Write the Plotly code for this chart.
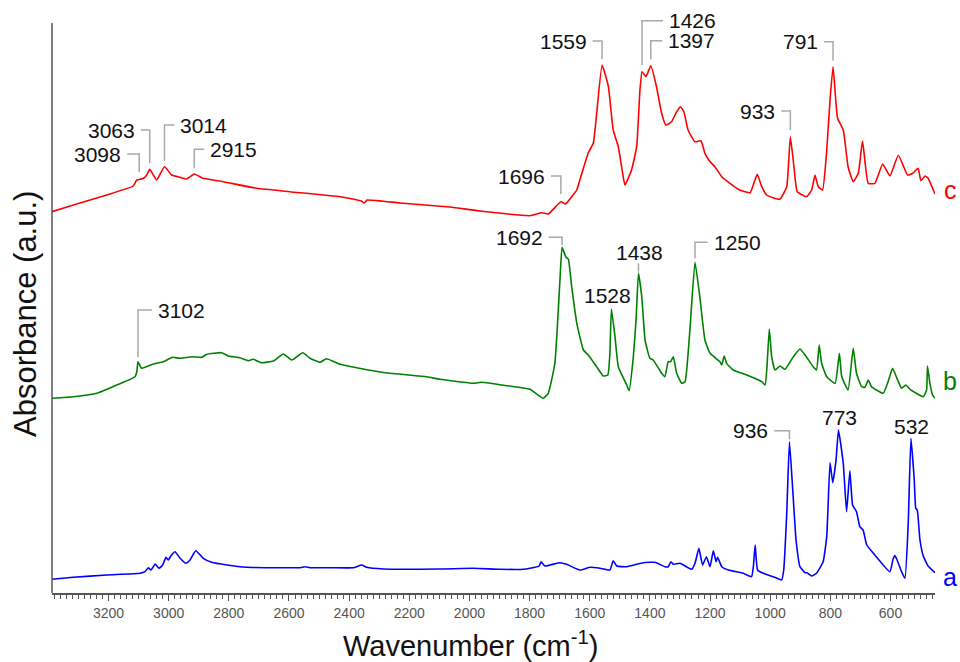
import plotly.graph_objects as go

# ---------------- data (wavenumber in cm-1, absorbance in arbitrary units) ----------------
c_wn = [3388,3317,3206,3118,3106,3095,3084,3073,3063,3040,3014,2990,2962,2940,2915,2886,2819,2707,2597,2430,
        2360,2350,2340,2231,2065,1965,1799,1760,1738,1696,1680,1660,1643,1633,1605,1588,1559,1538,1522,1505,
        1494,1483,1461,1444,1433,1426,1413,1397,1378,1361,1347,1328,1311,1298,1287,1273,1250,1230,1217,1200,
        1184,1161,1134,1101,1067,1043,1028,1012,968,945,933,921,910,879,862,851,840,826,812,801,
        791,776,757,741,724,707,693,674,652,626,602,574,543,526,508,499,485,475,452]
c_abs = [381.3,388,398,407,413,413.7,414.7,418,423.7,413,426.3,418,415.7,414,419,414.7,411.3,404.7,401.3,396.3,
         392,390,393,390,386,382,377.3,380.3,379,391.3,389,396.3,403,413,440,450,528,506.3,463,446.3,
         426.3,408,423,446.3,503,521.3,516.3,527.3,506.3,479.7,468,471.3,481.3,486.3,481.3,463,451.3,452.3,439.7,431.3,
         426.3,416.3,409.7,403,400.3,418.7,406.3,398,393.7,406.3,456.3,426.3,401.3,396.3,403,418,406.3,403,443,493,
         526.3,474.7,463,426.3,411.3,419.7,452,409.7,409.7,429,417,437.7,418,419.7,424.7,412.3,417,414.7,399]

b_wn = [3388,3317,3239,3173,3112,3106,3102,3090,3051,3018,2987,2962,2923,2890,2874,2824,2802,2763,2735,2719,
        2691,2652,2619,2591,2554,2530,2497,2475,2430,2375,2264,2142,2098,1987,1959,1898,1799,1755,1738,1716,
        1699,1692,1679,1671,1660,1643,1621,1605,1577,1555,1540,1533,1528,1516,1505,1477,1469,1455,1446,1438,
        1427,1416,1400,1389,1361,1350,1339,1331,1322,1311,1294,1283,1267,1250,1234,1217,1200,1167,1161,1153,
        1145,1123,1078,1028,1017,1010,1003,995,984,967,951,923,901,884,857,846,837,829,812,784,
        770,762,741,724,713,696,685,674,663,624,608,593,574,563,549,535,491,480,477,469,460,452]
b_abs = [194.7,196.3,199.7,208,216.3,221.3,231.3,224.7,229,231.3,235.7,234.7,236.3,235.7,238.7,240.3,237,235.3,232.3,233.7,
         230.3,232,239,233,240.3,234.7,230.7,234.3,228.7,225.3,219.7,216.3,213.7,209.7,210.7,208.3,203.7,194.7,199.7,229.7,
         313,345.7,335.7,333.7,306.3,269.7,243,238,226.3,217,218,239.7,284,256.3,226.3,208,202.3,236.3,273,319.7,
         296.3,253,234.7,233,219.7,216.3,231.3,231.3,236.3,219.7,209.7,211.3,263,330.7,296.3,253,239.7,231.3,228,237,
         229.7,223,218,211.3,208,229.7,264,236.3,223,227,223.7,236.3,244,238,226.3,223,248,229.7,216.3,209.7,
         239.7,216.3,203,244.7,219.7,206.3,205.7,213,206.3,199.7,211.3,224.7,211.3,204.7,208,203.7,196.3,203,227,209.7,198,194.7]

a_wn = [3388,3317,3206,3095,3079,3068,3059,3045,3032,3020,3009,3001,2993,2979,2962,2943,2929,2910,2885,2857,
        2807,2741,2652,2563,2547,2530,2464,2386,2358,2342,2286,2098,1987,1898,1821,1799,1768,1762,1749,1699,
        1677,1633,1599,1566,1533,1522,1510,1477,1422,1383,1350,1339,1330,1322,1300,1261,1250,1237,1225,1212,
        1200,1189,1180,1175,1161,1139,1090,1062,1056,1050,1042,1023,990,962,955,945,936,925,914,901,
        884,877,862,846,824,812,801,792,781,773,757,746,735,726,713,702,691,679,652,602,
        591,586,580,563,552,541,532,521,516,511,502,491,475,452]
a_abs = [13.7,15.7,18,19.7,21.3,25.3,23,29,24.7,28,35.7,33,37,41.3,34.7,29.7,33,42.3,34.7,30.7,
         28,25.7,25.3,25.3,26.3,25.3,25.3,25.3,28,25.7,24,24,24.7,23.7,23.7,24.7,27,31.3,27,30.3,
         28.7,23,25.7,24.7,23,32.3,27,26.3,30.3,30.7,26.3,26.3,31.3,28.7,29.7,23.7,29.7,44.7,28,36.3,
         26.3,42.3,31.3,35.7,26.3,23,19.7,16.3,26.3,48,23,19.7,16.3,13,23,79.7,151.3,103,53,26.3,
         20.3,20.3,17,19.7,31.3,56.3,130.3,110.3,133,163,129.7,81.3,122.3,88,81.3,66.3,63,48,38,21.3,
         34.5,37.5,34.5,21.3,14.7,69.7,154.7,113,84.7,83,53,37,27,20.3]

series_names = ["c", "b", "a"]
series_colors = ["#ff0000", "#008000", "#0000ff"]

# peak labels with bracket leaders: text, peak wavenumber, bracket level, bracket end, side of text, arm (px)
bracket_text = ["3098", "3063", "3014", "2915", "1696", "1559", "1426", "1397", "933", "791",
                "3102", "1692", "1250", "936"]
bracket_peak = [3098, 3063, 3014, 2915, 1696, 1559, 1426, 1397, 933, 791,
                3102, 1692, 1250, 936]
bracket_level = [439, 463, 468, 443.7, 417, 552, 572.3, 552.3, 482, 551.3,
                 283, 355.7, 350.7, 162.3]
bracket_end = [421, 430, 432, 424.7, 399, 533.7, 528, 533.7, 463, 532.3,
               235.7, 348, 334.7, 153.7]
bracket_side = ["left", "left", "right", "right", "left", "left", "right", "right", "left", "left",
                "right", "left", "right", "left"]
bracket_arm = [12, 9, 10, 10, 10, 9.5, 21, 11.5, 9, 9,
               14, 13.5, 12.5, 15]

# plain labels (no bracket)
plain_text = ["1528", "1438", "773", "532"]
plain_x = [1541, 1433, 768, 531]
plain_y = [298, 340.7, 175.7, 167]
# small tick under 1438
tick_peak = 1438
tick_y = [321.3, 329.7]

X_LEFT, X_RIGHT = 3388, 452
PLOT_L, PLOT_R = 52, 935
WN_PER_PX = (X_LEFT - X_RIGHT) / (PLOT_R - PLOT_L)

FONT = "Arial, Liberation Sans, sans-serif"

fig = go.Figure()
for name, col, xs, ys in zip(series_names, series_colors, [c_wn, b_wn, a_wn], [c_abs, b_abs, a_abs]):
    fig.add_trace(go.Scatter(x=xs, y=ys, mode="lines", name=name,
                             line=dict(color=col, width=1.6, shape="spline", smoothing=0.4),
                             hoverinfo="skip", showlegend=False))

shapes = []
annotations = []
gray = "#a8a8a8"
for t, pk, lv, en, side, arm in zip(bracket_text, bracket_peak, bracket_level, bracket_end, bracket_side, bracket_arm):
    if side == "left":
        xe = pk + arm * WN_PER_PX
        anchor, shift = "right", -4
    else:
        xe = pk - arm * WN_PER_PX
        anchor, shift = "left", 4
    shapes.append(dict(type="path", xref="x", yref="y",
                       path=f"M {xe},{lv} L {pk},{lv} L {pk},{en}",
                       line=dict(color=gray, width=1.5)))
    annotations.append(dict(x=xe, y=lv, xref="x", yref="y", text=t, showarrow=False,
                            xanchor=anchor, yanchor="middle", xshift=shift,
                            font=dict(family=FONT, size=21, color="#111")))
for t, x, y in zip(plain_text, plain_x, plain_y):
    annotations.append(dict(x=x, y=y, xref="x", yref="y", text=t, showarrow=False,
                            xanchor="center", yanchor="middle",
                            font=dict(family=FONT, size=21, color="#111")))
shapes.append(dict(type="line", xref="x", yref="y", x0=tick_peak, x1=tick_peak, y0=tick_y[0], y1=tick_y[1],
                   line=dict(color=gray, width=1.5)))

# y axis line (only up to the original top)
shapes.append(dict(type="line", xref="paper", yref="y", x0=0, x1=0, y0=0, y1=570,
                   line=dict(color="#555", width=1.5)))

# series letters
letter_y = [403, 212, 16]
for name, col, y in zip(series_names, series_colors, letter_y):
    annotations.append(dict(x=(950 - PLOT_L) / (PLOT_R - PLOT_L), y=y, xref="paper", yref="y", text=name,
                            showarrow=False, xanchor="center", yanchor="middle",
                            font=dict(family=FONT, size=25, color=col)))

# axis titles
annotations.append(dict(x=(470 - PLOT_L) / (PLOT_R - PLOT_L), y=(593 - 644) / 590, xref="paper", yref="paper",
                        text="Wavenumber (cm<sup>-1</sup>)", showarrow=False, xanchor="center", yanchor="middle",
                        font=dict(family=FONT, size=29, color="#111")))
annotations.append(dict(x=(25 - PLOT_L) / (PLOT_R - PLOT_L), y=(593 - 314) / 590, xref="paper", yref="paper",
                        text="Absorbance (a.u.)", showarrow=False, xanchor="center", yanchor="middle",
                        textangle=-90, font=dict(family=FONT, size=31, color="#111")))

fig.update_layout(
    width=960, height=662,
    margin=dict(l=PLOT_L, r=960 - PLOT_R, t=3, b=69),
    plot_bgcolor="white", paper_bgcolor="white",
    shapes=shapes, annotations=annotations,
    xaxis=dict(range=[X_LEFT, X_RIGHT], showgrid=False, zeroline=False,
               showline=True, linecolor="#555", linewidth=1.5,
               tick0=0, dtick=200, ticks="outside", ticklen=6, tickwidth=1, tickcolor="#555",
               tickfont=dict(family=FONT, size=14, color="#555"),
               minor=dict(dtick=20, tick0=0, ticks="outside", ticklen=4, tickwidth=1, tickcolor="#555", showgrid=False)),
    yaxis=dict(range=[0, 590], showgrid=False, zeroline=False, showline=False,
               showticklabels=False, ticks=""),
)

fig.write_html("out.html", config={"displayModeBar": False},
               post_script="document.body.style.margin='0';document.body.style.overflow='hidden';")
